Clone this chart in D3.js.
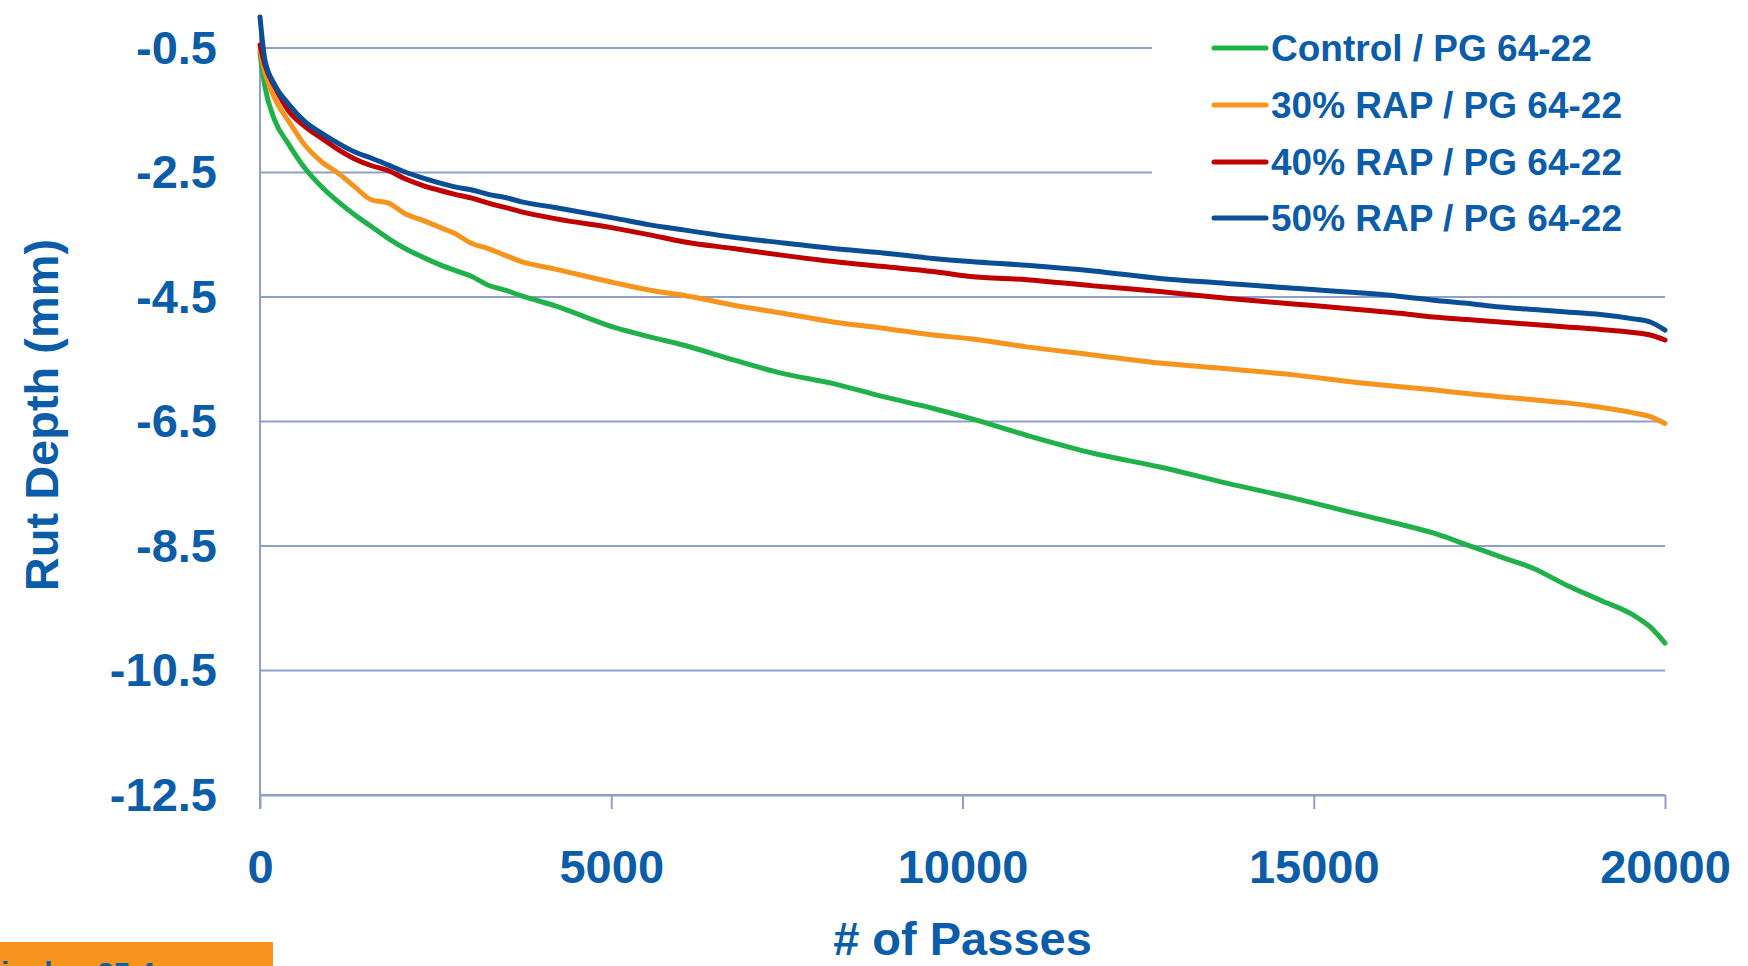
<!DOCTYPE html>
<html>
<head>
<meta charset="utf-8">
<script src="https://cdn.jsdelivr.net/npm/d3@7"></script>
<style>
  html, body { margin: 0; padding: 0; background: #ffffff; overflow: hidden; }
  svg { display: block; }
  text { font-family: "Liberation Sans", Arial, sans-serif; font-weight: bold; }
</style>
</head>
<body>
<svg id="chart" width="1748" height="966"></svg>
<script>
// Wheel-tracking rut depth versus number of passes
const passes = [0, 70, 210, 400, 640, 880, 1115, 1350, 1590, 1830, 2065, 2300, 2540, 2775,
  3015, 3250, 3490, 3725, 4200, 5080, 5550, 6025, 6740, 7450, 8160, 8870, 9585, 10110,
  10910, 11860, 12810, 13760, 14710, 15750, 16230, 16700, 17180, 17650, 18130, 18600,
  19080, 19550, 19790, 20000];

const controlPG = [-0.58, -1.12, -1.66, -2.03, -2.43, -2.73, -2.97, -3.18, -3.37, -3.56, -3.72,
  -3.85, -3.97, -4.07, -4.17, -4.31, -4.39, -4.48, -4.64, -5.00, -5.14, -5.27, -5.51, -5.73,
  -5.89, -6.10, -6.29, -6.45, -6.72, -7.01, -7.23, -7.49, -7.73, -8.02, -8.15, -8.29, -8.48,
  -8.67, -8.86, -9.13, -9.37, -9.61, -9.80, -10.06];

const rap30PG = [-0.53, -0.88, -1.31, -1.66, -2.06, -2.33, -2.51, -2.73, -2.94, -2.99, -3.16,
  -3.26, -3.37, -3.48, -3.64, -3.72, -3.83, -3.93, -4.05, -4.28, -4.39, -4.47, -4.63, -4.76,
  -4.90, -5.00, -5.11, -5.17, -5.30, -5.43, -5.56, -5.65, -5.75, -5.89, -5.94, -5.99, -6.05,
  -6.10, -6.15, -6.20, -6.27, -6.36, -6.42, -6.53];

const rap40PG = [-0.45, -0.77, -1.12, -1.50, -1.76, -1.95, -2.13, -2.28, -2.39, -2.47, -2.60,
  -2.70, -2.78, -2.85, -2.91, -2.99, -3.06, -3.13, -3.24, -3.40, -3.50, -3.61, -3.72, -3.83,
  -3.93, -4.01, -4.09, -4.17, -4.22, -4.32, -4.41, -4.52, -4.61, -4.71, -4.76, -4.82, -4.86,
  -4.90, -4.94, -4.98, -5.02, -5.07, -5.11, -5.19];

const rap50PG = [0.0, -0.69, -1.09, -1.39, -1.68, -1.87, -2.03, -2.17, -2.27, -2.38, -2.49,
  -2.58, -2.66, -2.73, -2.78, -2.85, -2.90, -2.97, -3.06, -3.24, -3.34, -3.42, -3.54, -3.63,
  -3.72, -3.79, -3.88, -3.93, -3.99, -4.08, -4.20, -4.28, -4.36, -4.44, -4.49, -4.55, -4.60,
  -4.66, -4.70, -4.74, -4.78, -4.85, -4.90, -5.03];

const seriesNames = ["Control / PG 64-22", "30% RAP / PG 64-22", "40% RAP / PG 64-22", "50% RAP / PG 64-22"];
const seriesColors = ["#21b14b", "#f7941d", "#c00000", "#0a4f96"];
const seriesValues = [controlPG, rap30PG, rap40PG, rap50PG];

const xTicks = [0, 5000, 10000, 15000, 20000];
const yTicks = [-0.5, -2.5, -4.5, -6.5, -8.5, -10.5, -12.5];

const xTitle = "# of Passes";
const yTitle = "Rut Depth (mm)";
const noteText = "1 inch = 25.4 mm";

const textBlue = "#0b5ca9";
const gridColor = "#8e9fc9";

const svg = d3.select("#chart");

const x = d3.scaleLinear().domain([0, 20000]).range([260, 1665]);
const y = d3.scaleLinear().domain([-12.5, 0]).range([795, 17]);

// horizontal gridlines
svg.append("g")
  .selectAll("line")
  .data(yTicks)
  .join("line")
  .attr("x1", x(0)).attr("x2", x(20000))
  .attr("y1", d => y(d)).attr("y2", d => y(d))
  .attr("stroke", gridColor).attr("stroke-width", 2);

// y axis line (runs past the x axis by one tick length)
svg.append("line")
  .attr("x1", x(0)).attr("x2", x(0))
  .attr("y1", y(0)).attr("y2", y(-12.5) + 14)
  .attr("stroke", gridColor).attr("stroke-width", 2);

// x axis with downward ticks
const xAxis = d3.axisBottom(x).tickValues(xTicks).tickSize(14).tickSizeOuter(0).tickFormat(d3.format("d"));
const gx = svg.append("g").attr("transform", `translate(0,${y(-12.5)})`).call(xAxis);
gx.select(".domain").attr("stroke", gridColor).attr("stroke-width", 2);
gx.selectAll(".tick line").attr("stroke", gridColor).attr("stroke-width", 2);
gx.selectAll(".tick text")
  .attr("y", 88).attr("dy", 0)
  .attr("fill", textBlue).style("font-size", "47px");

// y axis labels
const yAxis = d3.axisLeft(y).tickValues(yTicks).tickSize(0).tickPadding(43).tickFormat(d3.format(".1f"));
const gy = svg.append("g").attr("transform", `translate(${x(0)},0)`).call(yAxis);
gy.select(".domain").remove();
gy.selectAll(".tick text")
  .attr("fill", textBlue).style("font-size", "47px")
  .text(d => d3.format(".1f")(d).replace("\u2212", "-"));

// series lines
const line = d3.line()
  .x((d, i) => x(passes[i]))
  .y(d => y(d))
  .curve(d3.curveMonotoneX);

svg.append("g")
  .selectAll("path")
  .data(seriesValues)
  .join("path")
  .attr("d", d => line(d))
  .attr("fill", "none")
  .attr("stroke", (d, i) => seriesColors[i])
  .attr("stroke-width", 5)
  .attr("stroke-linecap", "round")
  .attr("stroke-linejoin", "round");

// legend box over the upper gridlines
const legend = svg.append("g");
legend.append("rect")
  .attr("x", 1152).attr("y", 5).attr("width", 596).attr("height", 245)
  .attr("fill", "#ffffff");
const rowY = [48, 105, 162, 218];
const rows = legend.selectAll("g.row")
  .data(seriesNames)
  .join("g")
  .attr("class", "row")
  .attr("transform", (d, i) => `translate(0,${rowY[i]})`);
rows.append("line")
  .attr("x1", 1214).attr("x2", 1266)
  .attr("y1", 0).attr("y2", 0)
  .attr("stroke", (d, i) => seriesColors[i])
  .attr("stroke-width", 5)
  .attr("stroke-linecap", "round");
rows.append("text")
  .attr("x", 1271).attr("y", 13)
  .attr("fill", textBlue).style("font-size", "37px")
  .text(d => d);

// axis titles
svg.append("text")
  .attr("x", (x(0) + x(20000)) / 2).attr("y", 955)
  .attr("text-anchor", "middle")
  .attr("fill", textBlue).style("font-size", "47px")
  .text(xTitle);

svg.append("text")
  .attr("transform", "translate(58,415) rotate(-90)")
  .attr("text-anchor", "middle")
  .attr("fill", textBlue).style("font-size", "47px")
  .text(yTitle);

// unit note strip at the bottom-left corner
svg.append("rect")
  .attr("x", 0).attr("y", 942).attr("width", 273).attr("height", 30)
  .attr("fill", "#f7941d");
svg.append("text")
  .attr("x", -24).attr("y", 983)
  .attr("fill", textBlue).style("font-size", "30px")
  .text(noteText);
</script>
</body>
</html>
